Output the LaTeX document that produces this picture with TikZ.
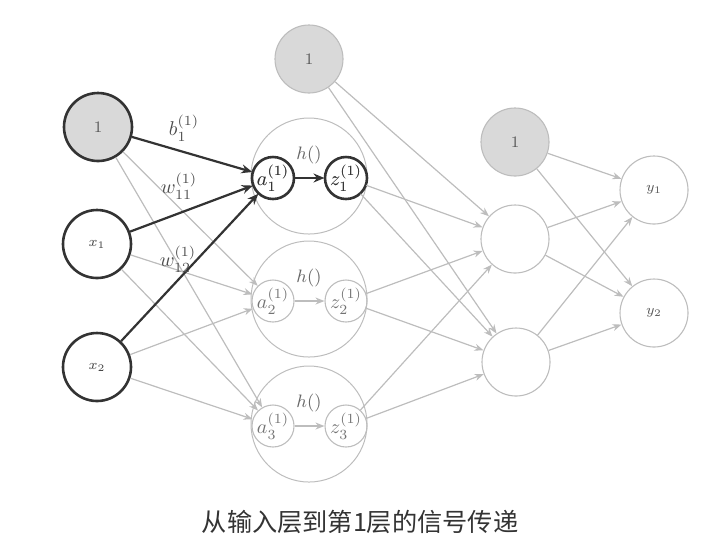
\documentclass[tikz,border=0pt]{standalone}
\usepackage{fontspec}
\newfontfamily\cjk{Noto Sans CJK SC}
\usetikzlibrary{arrows.meta}
\definecolor{lgray}{HTML}{BDBDBD}
\definecolor{fgray}{HTML}{D9D9D9}
\definecolor{dgray}{HTML}{333333}
\begin{document}
\begin{tikzpicture}[x=0.5pt,y=-0.5pt,
	neuron/.style={circle,draw=lgray,line width=0.55pt,minimum size=34pt,inner sep=0pt,text=black!65,font=\scriptsize},
	bias/.style={neuron,fill=fgray,font=\footnotesize},
	bold/.style={draw=dgray,line width=1.3pt},
	unit/.style={circle,draw=lgray,line width=0.55pt,minimum size=21pt,inner sep=0pt,text=black!55},
	big/.style={circle,draw=lgray,line width=0.5pt,minimum size=58pt},
	edge/.style={draw=lgray,line width=0.6pt,-{Stealth[length=4.5pt,width=3.5pt]}},
	hot/.style={draw=dgray,line width=1.1pt,-{Stealth[length=5.5pt,width=4.5pt]}}]
	\useasboundingbox (0,0) rectangle (726,559);
	\node[bias,bold] (b0) at (98,127) {1};
	\node[neuron,bold,text=black!75] (x1) at (97,244) {$x_1$};
	\node[neuron,bold,text=black!75] (x2) at (97,367) {$x_2$};
	\node[bias] (b1) at (309,59) {1};
	\foreach \i/\y in {1/176,2/299,3/424}{
		\node[big] (h\i) at (309,\y) {};
		\node[unit] (a\i) at (273,\y+2) {$a^{(1)}_\i$};
		\node[unit] (z\i) at (346,\y+2) {$z^{(1)}_\i$};
		\node[text=black!60,font=\small] (f\i) at (309,\y-21) {$h()$};
	}
	\node[unit,bold,text=black!80] at (a1) {$a^{(1)}_1$};
	\node[unit,bold,text=black!80] at (z1) {$z^{(1)}_1$};
	\node[bias] (b2) at (515,142) {1};
	\node[neuron] (s1) at (515,239) {};
	\node[neuron] (s2) at (516,362) {};
	\node[neuron] (y1) at (654,190) {$y_1$};
	\node[neuron] (y2) at (654,313) {$y_2$};
	\foreach \s in {b0,x1,x2}
		\foreach \t in {a2,a3}
			\draw[edge] (\s) -- (\t);
	\draw[edge] (a2) -- (z2);
	\draw[edge] (a3) -- (z3);
	\foreach \s in {b1,z1,z2,z3}
		\foreach \t in {s1,s2}
			\draw[edge] (\s) -- (\t);
	\foreach \s in {b2,s1,s2}
		\foreach \t in {y1,y2}
			\draw[edge] (\s) -- (\t);
	\draw[hot] (b0) -- (a1);
	\draw[hot] (x1) -- (a1);
	\draw[hot] (x2) -- (a1);
	\draw[hot] (a1) -- (z1);
	\node[text=black!70] (lb) at (184,128) {$b^{(1)}_1$};
	\node[text=black!70] (lw1) at (179,186) {$w^{(1)}_{11}$};
	\node[text=black!70] (lw2) at (178,259) {$w^{(1)}_{12}$};
	\node[text=dgray] (cap) at (360,522) {\cjk\fontsize{12.6}{15}\selectfont 从输入层到第1层的信号传递};
\end{tikzpicture}
\end{document}
